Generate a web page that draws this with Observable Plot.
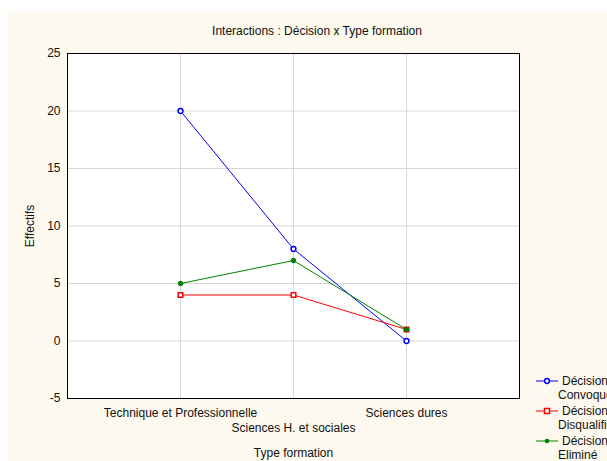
<!DOCTYPE html>
<html><head><meta charset="utf-8">
<script src="https://cdn.jsdelivr.net/npm/d3@7"></script>
<script src="https://cdn.jsdelivr.net/npm/@observablehq/plot@0.6"></script>
<style>
html,body{margin:0;padding:0;width:607px;height:461px;overflow:hidden;background:#fff;font-family:"Liberation Sans",Arial,sans-serif;}
#panel{position:absolute;left:8px;top:12px;width:599px;height:449px;background:#fdf9ee;}
#chart{position:absolute;left:0;top:0;}
#title{position:absolute;top:24px;left:0;width:634px;text-align:center;font-size:12px;color:#111;}
.leg{position:absolute;left:536px;font-size:12px;color:#111;white-space:nowrap;line-height:14px;}
.leg svg{position:absolute;left:0;top:0;}
.leg .l1{position:absolute;left:26px;top:0;}
.leg .l2{position:absolute;left:22px;top:14px;}
</style>
</head><body>
<div id="panel"></div>
<div id="chart"></div>
<div id="title">Interactions : Décision x Type formation</div>
<div id="legend"></div>
<script>
const categories = ["Technique et Professionnelle", "Sciences H. et sociales", "Sciences dures"];
const seriesNames = ["Décision Convoqué", "Décision Disqualifié", "Décision Eliminé"];
const convoque = [20, 8, 0];
const disqualifie = [4, 4, 1];
const elimine = [5, 7, 1];
const colors = ["#0000ff", "#ff0000", "#008000"];
const yTicks = [-5, 0, 5, 10, 15, 20, 25];

const seriesValues = [convoque, disqualifie, elimine];
const rows = [];
seriesNames.forEach((s, i) => categories.forEach((c, j) => rows.push({series: s, cat: c, value: seriesValues[i][j]})));
const bySeries = s => rows.filter(d => d.series === s);

const plot = Plot.plot({
  width: 607, height: 461,
  marginLeft: 67, marginRight: 88, marginTop: 53, marginBottom: 63,
  style: {background: "transparent", fontFamily: "Liberation Sans, Arial, sans-serif", fontSize: "12px", color: "#111"},
  x: {type: "point", domain: categories, padding: 1},
  y: {domain: [-5, 25]},
  color: {domain: seriesNames, range: colors},
  marks: [
    Plot.frame({fill: "white"}),
    Plot.gridX({stroke: "#d8d8d8", strokeOpacity: 1}),
    Plot.gridY(yTicks, {stroke: "#d8d8d8", strokeOpacity: 1}),
    Plot.line(rows, {x: "cat", y: "value", z: "series", stroke: "series", strokeWidth: 1}),
    Plot.dot(bySeries(seriesNames[1]), {x: "cat", y: "value", symbol: "square", r: 2.6, fill: "white", stroke: colors[1], strokeWidth: 1.5}),
    Plot.dot(bySeries(seriesNames[2]), {x: "cat", y: "value", symbol: "circle", r: 2.3, fill: colors[2], stroke: colors[2], strokeWidth: 1}),
    Plot.dot(bySeries(seriesNames[0]), {x: "cat", y: "value", symbol: "circle", r: 2.4, fill: "white", stroke: colors[0], strokeWidth: 1.5}),
    Plot.frame({stroke: "#000"}),
    Plot.axisY({ticks: yTicks, tickFormat: d => String(d), tickSize: 0, tickPadding: 7, label: "Effectifs", labelAnchor: "center", labelArrow: "none", labelOffset: 42}),
    Plot.axisX({ticks: [categories[0], categories[2]], tickSize: 0, tickPadding: 10, label: null}),
    Plot.axisX({ticks: [categories[1]], tickSize: 0, tickPadding: 25, label: "Type formation", labelAnchor: "center", labelArrow: "none", labelOffset: 58})
  ]
});
document.getElementById("chart").appendChild(plot);

const legend = document.getElementById("legend");
const symbols = ["circle", "square", "dot"];
seriesNames.forEach((s, i) => {
  const div = document.createElement("div");
  div.className = "leg";
  div.style.top = (374 + i * 30) + "px";
  const sym = symbols[i];
  let m;
  if (sym === "circle") m = `<circle cx="11" cy="7" r="2.4" fill="white" stroke="${colors[i]}" stroke-width="1.5"/>`;
  else if (sym === "square") m = `<rect x="8.5" y="4.5" width="5" height="5" fill="white" stroke="${colors[i]}" stroke-width="1.5"/>`;
  else m = `<circle cx="11" cy="7" r="2.3" fill="${colors[i]}"/>`;
  const parts = s.split(" ");
  div.innerHTML = `<svg width="22" height="14"><line x1="0" x2="22" y1="7" y2="7" stroke="${colors[i]}" stroke-width="1"/>${m}</svg><span class="l1">${parts[0]}</span><span class="l2">${parts.slice(1).join(" ")}</span>`;
  legend.appendChild(div);
});
</script>
</body></html>
